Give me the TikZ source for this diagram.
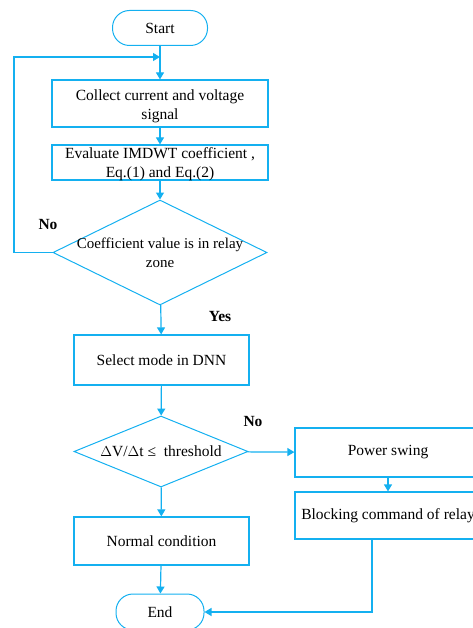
\documentclass[tikz,border=0pt]{standalone}
\usepackage{fontspec}
\setmainfont{Liberation Serif}
\usetikzlibrary{shapes.geometric,arrows.meta}
\definecolor{fcblue}{RGB}{20,176,240}
\begin{document}
\begin{tikzpicture}[x=1pt,y=-1pt,
  every node/.style={font=\fontsize{15.5}{19}\selectfont, inner sep=0pt, align=center},
  box/.style={draw=fcblue, line width=1.2pt, rectangle},
  term/.style={draw=fcblue, line width=1.0pt, rectangle, rounded corners=17pt},
  dia/.style={draw=fcblue, line width=1.0pt, shape=diamond},
  lbl/.style={font=\fontsize{15.5}{19}\selectfont\bfseries},
  conn/.style={draw=fcblue, line width=1.2pt},
  arr/.style={conn, -{Triangle[length=7pt,width=8pt]}}]
\useasboundingbox (0,0) rectangle (472,628);
\node[term, minimum width=95pt, minimum height=35pt] (start) at (160,28) {Start};
\node[box, minimum width=216pt, minimum height=47pt] (collect) at (160,103.5) {};
\node (collectt) at (160,106) {Collect current and voltage\\signal};
\node[box, minimum width=216pt, minimum height=35pt] (eval) at (160,162.5) {};
\node (evalt) at (160,164.5) {Evaluate IMDWT coefficient ,\\Eq.(1) and Eq.(2)};
\node[dia, minimum width=214pt, minimum height=105pt] (d1) at (160,252.5) {};
\node[font=\fontsize{15}{19}\selectfont] (d1t) at (160,253) {Coefficient value is in relay\\zone};
\node[box, minimum width=175pt, minimum height=50pt] (select) at (161.5,360) {Select mode in DNN};
\node[dia, minimum width=174pt, minimum height=71pt] (d2) at (161,451.5) {};
\node (d2t) at (161,451.5) {$\Delta$V/$\Delta$t ≤\ \ threshold};
\node[box, minimum width=186pt, minimum height=49pt] (power) at (388,452.5) {Power swing};
\node[box, minimum width=186pt, minimum height=47pt] (block) at (388,515.5) {Blocking command of relay};
\node[box, minimum width=175pt, minimum height=48pt] (normal) at (161.5,541) {Normal condition};
\node[term, minimum width=88pt, minimum height=36pt] (end) at (160,612) {End};
\node[lbl] (no1) at (48,225) {No};
\node[lbl] (yes) at (220,316) {Yes};
\node[lbl] (no2) at (253,421) {No};
\coordinate (lx) at (14,57);
\coordinate (bx) at (372,539);
\draw[arr] (start) -- (collect);
\draw[arr] (collect) -- (eval);
\draw[arr] (eval) -- (d1);
\draw[arr] (d1.west) -| (lx) -- (lx -| start);
\draw[arr] (d1) -- (select);
\draw[arr] (select) -- (d2);
\draw[arr] (d2) -- (power);
\draw[arr] (power) -- (block);
\draw[arr] (d2) -- (normal);
\draw[arr] (normal) -- (end);
\draw[arr] (bx) |- (end.east);
\end{tikzpicture}
\end{document}
